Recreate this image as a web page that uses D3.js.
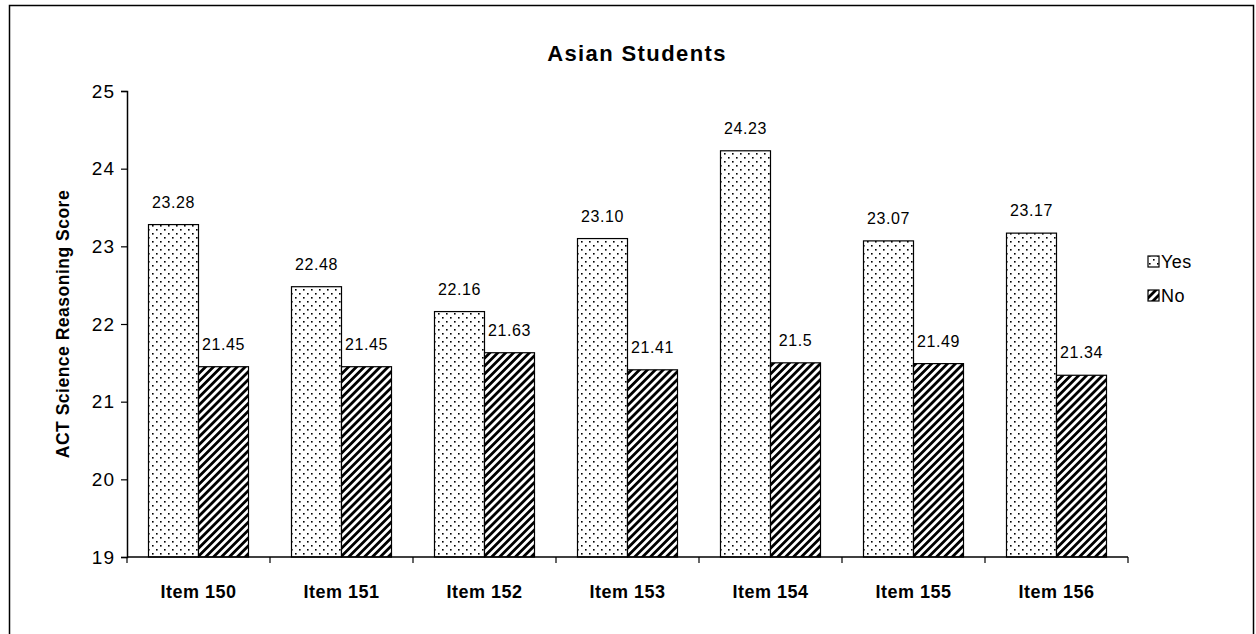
<!DOCTYPE html>
<html>
<head>
<meta charset="utf-8">
<script src="https://cdn.jsdelivr.net/npm/d3@7"></script>
<style>
  body { margin: 0; background: #fff; }
  svg { display: block; font-family: Arial, "Liberation Sans", sans-serif; }
</style>
</head>
<body>
<svg id="chart" width="1256" height="634"></svg>
<script>
// Chart data
const categories = ["Item 150", "Item 151", "Item 152", "Item 153", "Item 154", "Item 155", "Item 156"];
const yesValues = [23.28, 22.48, 22.16, 23.10, 24.23, 23.07, 23.17];
const noValues  = [21.45, 21.45, 21.63, 21.41, 21.5, 21.49, 21.34];
const seriesNames = ["Yes", "No"];
const yTicks = [19, 20, 21, 22, 23, 24, 25];

const svg = d3.select("#chart");

// Patterns: dotted fill for Yes, diagonal hatch for No
const defs = svg.append("defs");
const dots = defs.append("pattern")
  .attr("id", "dots").attr("patternUnits", "userSpaceOnUse")
  .attr("width", 8).attr("height", 8);
dots.append("rect").attr("width", 8).attr("height", 8).attr("fill", "#fff");
dots.append("rect").attr("x", 1).attr("y", 1).attr("width", 1.6).attr("height", 1.6).attr("fill", "#000");
dots.append("rect").attr("x", 5).attr("y", 5).attr("width", 1.6).attr("height", 1.6).attr("fill", "#000");

const hatch = defs.append("pattern")
  .attr("id", "hatch").attr("patternUnits", "userSpaceOnUse")
  .attr("width", 5.6).attr("height", 8)
  .attr("patternTransform", "rotate(45)");
hatch.append("rect").attr("width", 5.6).attr("height", 8).attr("fill", "#fff");
hatch.append("rect").attr("x", 0).attr("y", 0).attr("width", 2.8).attr("height", 8).attr("fill", "#000");

const fills = { Yes: "url(#dots)", No: "url(#hatch)" };

// Outer frame
svg.append("rect")
  .attr("x", 9.5).attr("y", 5.5).attr("width", 1244).attr("height", 640)
  .attr("fill", "none").attr("stroke", "#000").attr("stroke-width", 1.5);

const margin = { left: 127, right: 1128, top: 91, bottom: 557 };

const x = d3.scaleBand().domain(categories).range([margin.left, margin.right]).paddingInner(0).paddingOuter(0);
const x1 = d3.scaleBand().domain(seriesNames).range([0, x.bandwidth()]).paddingInner(0).paddingOuter(0.43);
const y = d3.scaleLinear().domain([19, 25]).range([margin.bottom, margin.top]);

// Title
svg.append("text")
  .attr("x", 637).attr("y", 61)
  .attr("text-anchor", "middle")
  .attr("font-size", 22).attr("font-weight", "bold")
  .attr("letter-spacing", 1.4)
  .text("Asian Students");

// Y axis
const yAxis = svg.append("g")
  .attr("transform", `translate(${margin.left},0)`)
  .call(d3.axisLeft(y).tickValues(yTicks).tickSize(6).tickFormat(d3.format("d")));
yAxis.select(".domain").attr("stroke", "#000").attr("stroke-width", 1.5);
yAxis.selectAll(".tick line").attr("stroke", "#000").attr("stroke-width", 1.2);
yAxis.selectAll(".tick text").attr("font-size", 19).attr("fill", "#000")
  .attr("letter-spacing", 1)
  .attr("font-family", "Arial, 'Liberation Sans', sans-serif").attr("dx", -3);

// Y axis title
svg.append("text")
  .attr("transform", `translate(69,${(margin.top + margin.bottom) / 2}) rotate(-90)`)
  .attr("text-anchor", "middle")
  .attr("font-size", 17.5).attr("font-weight", "bold")
  .attr("letter-spacing", 0.5)
  .text("ACT Science Reasoning Score");

// Bars
const rows = categories.map((c, i) => ({ cat: c, Yes: yesValues[i], No: noValues[i] }));
const groups = svg.append("g").selectAll("g")
  .data(rows).join("g")
  .attr("transform", d => `translate(${x(d.cat)},0)`);

const bars = groups.selectAll("g.bar")
  .data(d => seriesNames.map(s => ({ s, v: d[s] })))
  .join("g").attr("class", "bar");

bars.append("rect")
  .attr("x", d => x1(d.s))
  .attr("y", d => y(d.v))
  .attr("width", x1.bandwidth())
  .attr("height", d => y(19) - y(d.v))
  .attr("fill", d => fills[d.s])
  .attr("stroke", "#000").attr("stroke-width", 1.2);

bars.append("text")
  .attr("x", d => x1(d.s) + x1.bandwidth() / 2)
  .attr("y", d => y(d.v) - 17)
  .attr("text-anchor", "middle")
  .attr("font-size", 16)
  .attr("letter-spacing", 0.6)
  .text(d => d.s === "Yes" ? d.v.toFixed(2) : String(d.v));

// X axis with ticks between categories
const xAxisG = svg.append("g");
xAxisG.append("line")
  .attr("x1", margin.left).attr("x2", margin.right)
  .attr("y1", margin.bottom).attr("y2", margin.bottom)
  .attr("stroke", "#000").attr("stroke-width", 1.5);
xAxisG.selectAll("line.tick")
  .data(categories.concat(["__end"]))
  .join("line").attr("class", "tick")
  .attr("x1", (d, i) => i < categories.length ? x(d) : margin.right)
  .attr("x2", (d, i) => i < categories.length ? x(d) : margin.right)
  .attr("y1", margin.bottom).attr("y2", margin.bottom + 6)
  .attr("stroke", "#000").attr("stroke-width", 1.2);
xAxisG.selectAll("text")
  .data(categories).join("text")
  .attr("x", d => x(d) + x.bandwidth() / 2)
  .attr("y", 598)
  .attr("text-anchor", "middle")
  .attr("font-size", 18).attr("font-weight", "bold")
  .attr("letter-spacing", 0.5)
  .text(d => d);

// Legend
const legend = svg.append("g").attr("transform", "translate(1148,262)");
const li = legend.selectAll("g").data(seriesNames).join("g")
  .attr("transform", (d, i) => `translate(0,${i * 34})`);
li.append("rect")
  .attr("x", 0).attr("y", -6).attr("width", 11).attr("height", 11)
  .attr("fill", d => fills[d]).attr("stroke", "#000").attr("stroke-width", 1.2);
li.append("text")
  .attr("x", 13).attr("y", 6)
  .attr("font-size", 18)
  .attr("letter-spacing", 0.5)
  .text(d => d);
</script>
</body>
</html>
